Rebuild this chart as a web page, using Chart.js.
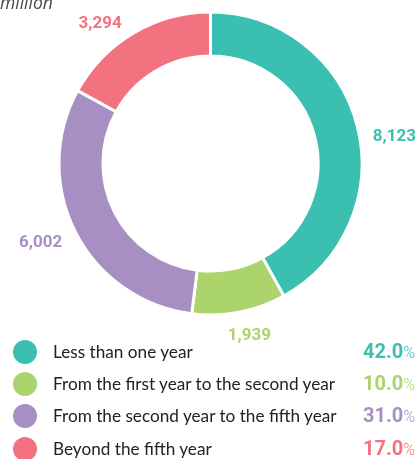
<!DOCTYPE html>
<html>
<head>
<meta charset="utf-8">
<script src="https://cdn.jsdelivr.net/npm/chart.js@4/dist/chart.umd.min.js"></script>
<style>
  html, body { margin: 0; padding: 0; background: #fff; }
  #wrap { position: relative; width: 420px; height: 459px; overflow: hidden; }
  #c { position: absolute; left: 0; top: 0; }
  #unit { position: absolute; left: 0; top: -10px; font: italic 400 17.5px "Open Sans", sans-serif; color: #4a4a4a; }
  .row { position: absolute; left: 0; width: 420px; height: 30px; }
  .dot { position: absolute; left: 13px; top: 3px; width: 24px; height: 24px; border-radius: 50%; }
  .name { position: absolute; left: 53px; top: 3px; font: 17.2px Lato, sans-serif; color: #222; line-height: 24px; white-space: nowrap; }
  .pct { position: absolute; right: 5px; top: 2px; line-height: 24px; white-space: nowrap; }
  .pct b { font: bold 20px Roboto, sans-serif; }
  .pct span { font: 300 16px Roboto, sans-serif; }
</style>
</head>
<body>
<div id="wrap">
  <canvas id="c" width="420" height="459"></canvas>
  <div id="unit">million</div>
  <div id="legend"></div>
</div>
<script>
// Maturity breakdown (amounts in million)
const categories = [
  'Less than one year',
  'From the first year to the second year',
  'From the second year to the fifth year',
  'Beyond the fifth year'
];
const amounts = [8123, 1939, 6002, 3294];
const shareLabels = ['42.0', '10.0', '31.0', '17.0'];
const colors = ['#3bbfb1', '#acd46c', '#a78fc4', '#f2737f'];

// Value labels placed outside each arc, at the arc's mid-angle
const outsideLabels = {
  id: 'outsideLabels',
  afterDatasetsDraw(chart, args, opts) {
    const ctx = chart.ctx;
    const meta = chart.getDatasetMeta(0);
    ctx.save();
    ctx.font = 'bold 17px Roboto, sans-serif';
    ctx.textAlign = 'center';
    ctx.textBaseline = 'middle';
    meta.data.forEach((arc, i) => {
      const mid = (arc.startAngle + arc.endAngle) / 2;
      const r = arc.outerRadius + opts.gap;
      const nudge = opts.nudges[i] || [0, 0];
      const x = arc.x + Math.cos(mid) * r + nudge[0];
      const y = arc.y + Math.sin(mid) * r + nudge[1];
      ctx.fillStyle = colors[i];
      ctx.fillText(amounts[i].toLocaleString('en-US'), x, y);
    });
    ctx.restore();
  }
};

new Chart(document.getElementById('c'), {
  type: 'doughnut',
  data: {
    labels: categories,
    datasets: [{
      data: amounts,
      backgroundColor: colors,
      borderColor: '#ffffff',
      borderWidth: 3,
      hoverOffset: 0
    }]
  },
  options: {
    responsive: false,
    devicePixelRatio: 1,
    animation: false,
    cutout: '71%',
    layout: { padding: { top: 10.5, bottom: 142.5, left: 57.5, right: 56.5 } },
    plugins: {
      legend: { display: false },
      tooltip: { enabled: false },
      outsideLabels: { gap: 28, nudges: [[10, 18], [5, -4], [-10, -2], [-19, 15]] }
    }
  },
  plugins: [outsideLabels]
});

// Legend rows with shares
const legend = document.getElementById('legend');
const rowTops = [337, 369, 401, 434];
categories.forEach((name, i) => {
  const row = document.createElement('div');
  row.className = 'row';
  row.style.top = rowTops[i] + 'px';
  row.innerHTML =
    '<div class="dot" style="background:' + colors[i] + '"></div>' +
    '<div class="name">' + name + '</div>' +
    '<div class="pct" style="color:' + colors[i] + '"><b>' + shareLabels[i] + '</b><span>%</span></div>';
  legend.appendChild(row);
});
</script>
</body>
</html>
